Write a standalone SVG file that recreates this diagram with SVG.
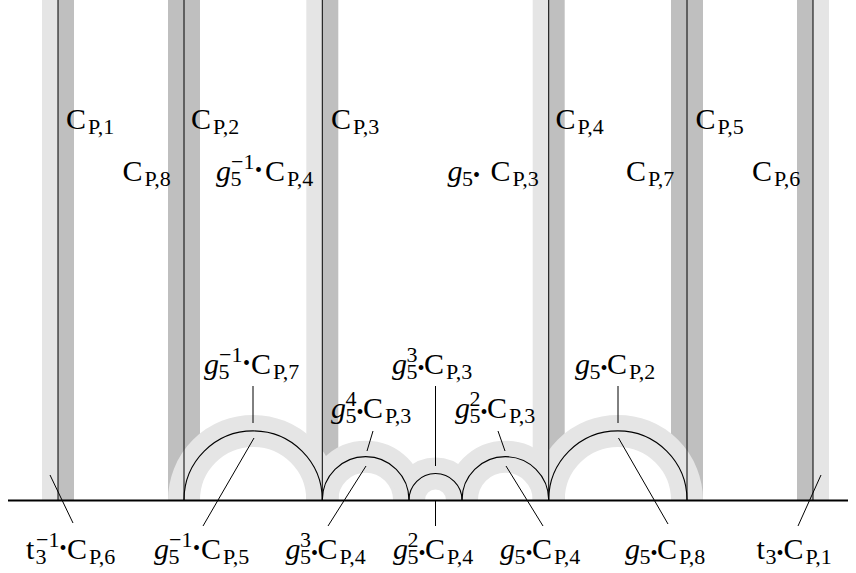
<svg xmlns="http://www.w3.org/2000/svg" width="856" height="573" viewBox="0 0 856 573">
<style>
.lt{fill:#e5e5e5}
.dk{fill:#bfbfbf}
.band{fill:none;stroke:#e5e5e5;stroke-width:32}
.ln{stroke:#000;stroke-width:1;fill:none}
.arc{stroke:#000;stroke-width:1.1;fill:none}
.ax{stroke:#000;stroke-width:2.2}
.m{font-family:"Liberation Serif",serif;font-size:30px;fill:#000}
.s{font-size:22px}
.i{font-style:italic}
.d{font-size:20px}
</style>
<rect width="856" height="573" fill="#fff"/>
<g id="bands">
<rect class="lt" x="42" y="0" width="16" height="500"/>
<rect class="dk" x="58" y="0" width="16" height="500"/>
<rect class="dk" x="168" y="0" width="32" height="500"/>
<rect class="lt" x="306.3" y="0" width="16" height="500"/>
<rect class="dk" x="322.3" y="0" width="16" height="500"/>
<rect class="lt" x="532.7" y="0" width="16" height="500"/>
<rect class="dk" x="548.7" y="0" width="16" height="500"/>
<rect class="dk" x="671" y="0" width="32" height="500"/>
<rect class="dk" x="797" y="0" width="16" height="500"/>
<rect class="lt" x="813" y="0" width="16" height="500"/>
<path class="band" d="M184,500 A69.15,69.15 0 0 1 322.3,500"/>
<path class="band" d="M322.3,500 A43.35,43.35 0 0 1 409,500"/>
<path class="band" d="M409,500 A26.5,26.5 0 0 1 462,500"/>
<path class="band" d="M462,500 A43.35,43.35 0 0 1 548.7,500"/>
<path class="band" d="M548.7,500 A69.15,69.15 0 0 1 687,500"/>
</g>
<g id="geodesics">
<line class="ln" x1="58" y1="0" x2="58" y2="500"/>
<line class="ln" x1="184" y1="0" x2="184" y2="500"/>
<line class="ln" x1="322.3" y1="0" x2="322.3" y2="500"/>
<line class="ln" x1="548.7" y1="0" x2="548.7" y2="500"/>
<line class="ln" x1="687" y1="0" x2="687" y2="500"/>
<line class="ln" x1="813" y1="0" x2="813" y2="500"/>
<path class="arc" d="M184,500 A69.15,69.15 0 0 1 322.3,500"/>
<path class="arc" d="M322.3,500 A43.35,43.35 0 0 1 409,500"/>
<path class="arc" d="M409,500 A26.5,26.5 0 0 1 462,500"/>
<path class="arc" d="M462,500 A43.35,43.35 0 0 1 548.7,500"/>
<path class="arc" d="M548.7,500 A69.15,69.15 0 0 1 687,500"/>
<line class="ax" x1="8" y1="500.5" x2="848" y2="500.5"/>
</g>
<g id="connectors">
<line class="ln" x1="253" y1="386" x2="253" y2="423"/>
<line class="ln" x1="203" y1="526" x2="254" y2="438"/>
<line class="ln" x1="373" y1="431" x2="367" y2="451"/>
<line class="ln" x1="328" y1="526" x2="366" y2="466"/>
<line class="ln" x1="435.5" y1="386" x2="435.5" y2="466"/>
<line class="ln" x1="435.5" y1="500" x2="435.5" y2="526"/>
<line class="ln" x1="498" y1="431" x2="505" y2="451"/>
<line class="ln" x1="543" y1="526" x2="506" y2="466"/>
<line class="ln" x1="618" y1="386" x2="618" y2="423"/>
<line class="ln" x1="668" y1="524" x2="618.5" y2="438"/>
<line class="ln" x1="50" y1="475" x2="73" y2="523"/>
<line class="ln" x1="821" y1="475" x2="798" y2="526"/>
</g>
<g id="labels" class="m">
<g id="cp1"><text><tspan x="66" y="129">C</tspan><tspan class="s" x="88" y="133.5">P,1</tspan></text></g>
<g id="cp2"><text><tspan x="191" y="129">C</tspan><tspan class="s" x="213" y="133.5">P,2</tspan></text></g>
<g id="cp3"><text><tspan x="331" y="129">C</tspan><tspan class="s" x="353" y="133.5">P,3</tspan></text></g>
<g id="cp4"><text><tspan x="555.5" y="129">C</tspan><tspan class="s" x="577.5" y="133.5">P,4</tspan></text></g>
<g id="cp5"><text><tspan x="695.5" y="129">C</tspan><tspan class="s" x="717.5" y="133.5">P,5</tspan></text></g>
<g id="cp8"><text><tspan x="122.5" y="181">C</tspan><tspan class="s" x="144.5" y="185.5">P,8</tspan></text></g>
<g id="cp7"><text><tspan x="626" y="181">C</tspan><tspan class="s" x="648" y="185.5">P,7</tspan></text></g>
<g id="cp6"><text><tspan x="752" y="181">C</tspan><tspan class="s" x="774" y="185.5">P,6</tspan></text></g>
<g id="gm1cp4"><text><tspan class="i" x="216" y="181">g</tspan><tspan class="s" x="230.5" y="185.5">5</tspan><tspan class="s" x="231" y="169">−1</tspan><tspan class="d" x="255" y="176.5">•</tspan><tspan x="265" y="181">C</tspan><tspan class="s" x="287" y="185.5">P,4</tspan></text></g>
<g id="g1cp3"><text><tspan class="i" x="447.5" y="181">g</tspan><tspan class="s" x="462" y="185.5">5</tspan><tspan class="d" x="473" y="181.5">•</tspan><tspan x="490.5" y="181">C</tspan><tspan class="s" x="512.5" y="185.5">P,3</tspan></text></g>
<g id="gm1cp7"><text><tspan class="i" x="204" y="374">g</tspan><tspan class="s" x="218.5" y="378.5">5</tspan><tspan class="s" x="219" y="362">−1</tspan><tspan class="d" x="243" y="369.5">•</tspan><tspan x="251" y="374">C</tspan><tspan class="s" x="273" y="378.5">P,7</tspan></text></g>
<g id="g3cp3"><text><tspan class="i" x="392" y="374">g</tspan><tspan class="s" x="406.5" y="378.5">5</tspan><tspan class="s" x="406.5" y="362">3</tspan><tspan class="d" x="417.5" y="374.5">•</tspan><tspan x="424" y="374">C</tspan><tspan class="s" x="446" y="378.5">P,3</tspan></text></g>
<g id="g1cp2"><text><tspan class="i" x="575" y="374">g</tspan><tspan class="s" x="589.5" y="378.5">5</tspan><tspan class="d" x="600.5" y="374.5">•</tspan><tspan x="607" y="374">C</tspan><tspan class="s" x="629" y="378.5">P,2</tspan></text></g>
<g id="g4cp3"><text><tspan class="i" x="331" y="418">g</tspan><tspan class="s" x="345.5" y="422.5">5</tspan><tspan class="s" x="345.5" y="406">4</tspan><tspan class="d" x="356.5" y="418.5">•</tspan><tspan x="363" y="418">C</tspan><tspan class="s" x="385" y="422.5">P,3</tspan></text></g>
<g id="g2cp3"><text><tspan class="i" x="455" y="418">g</tspan><tspan class="s" x="469.5" y="422.5">5</tspan><tspan class="s" x="469.5" y="406">2</tspan><tspan class="d" x="480.5" y="418.5">•</tspan><tspan x="487" y="418">C</tspan><tspan class="s" x="509" y="422.5">P,3</tspan></text></g>
<g id="tm1cp6"><text><tspan x="26" y="559">t</tspan><tspan class="s" x="35.5" y="563.5">3</tspan><tspan class="s" x="36" y="547">−1</tspan><tspan class="d" x="59.5" y="554.5">•</tspan><tspan x="67" y="559">C</tspan><tspan class="s" x="89" y="563.5">P,6</tspan></text></g>
<g id="gm1cp5"><text><tspan class="i" x="154" y="559">g</tspan><tspan class="s" x="168.5" y="563.5">5</tspan><tspan class="s" x="169" y="547">−1</tspan><tspan class="d" x="193" y="554.5">•</tspan><tspan x="201" y="559">C</tspan><tspan class="s" x="223" y="563.5">P,5</tspan></text></g>
<g id="g3cp4"><text><tspan class="i" x="285.5" y="559">g</tspan><tspan class="s" x="300" y="563.5">5</tspan><tspan class="s" x="300" y="547">3</tspan><tspan class="d" x="311" y="559.5">•</tspan><tspan x="317.5" y="559">C</tspan><tspan class="s" x="339.5" y="563.5">P,4</tspan></text></g>
<g id="g2cp4"><text><tspan class="i" x="393" y="559">g</tspan><tspan class="s" x="407.5" y="563.5">5</tspan><tspan class="s" x="407.5" y="547">2</tspan><tspan class="d" x="418.5" y="559.5">•</tspan><tspan x="425" y="559">C</tspan><tspan class="s" x="447" y="563.5">P,4</tspan></text></g>
<g id="g1cp4"><text><tspan class="i" x="500" y="559">g</tspan><tspan class="s" x="514.5" y="563.5">5</tspan><tspan class="d" x="525.5" y="559.5">•</tspan><tspan x="532" y="559">C</tspan><tspan class="s" x="554" y="563.5">P,4</tspan></text></g>
<g id="g1cp8"><text><tspan class="i" x="625" y="559">g</tspan><tspan class="s" x="639.5" y="563.5">5</tspan><tspan class="d" x="650.5" y="559.5">•</tspan><tspan x="657" y="559">C</tspan><tspan class="s" x="679" y="563.5">P,8</tspan></text></g>
<g id="t1cp1"><text><tspan x="756.5" y="559">t</tspan><tspan class="s" x="765.5" y="563.5">3</tspan><tspan class="d" x="776.5" y="559.5">•</tspan><tspan x="783.5" y="559">C</tspan><tspan class="s" x="805.5" y="563.5">P,1</tspan></text></g>
</g>
</svg>
